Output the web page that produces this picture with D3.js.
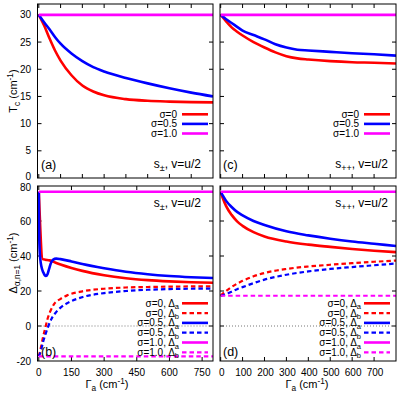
<!DOCTYPE html>
<html><head><meta charset="utf-8">
<script src="https://cdn.jsdelivr.net/npm/d3@7"></script>
<style>body{margin:0;background:#fff} svg{display:block} text{font-family:"Liberation Sans",Arial,Helvetica,sans-serif;fill:#000}</style>
</head><body><svg id="c" width="399" height="395"></svg>
<script>
// ---------- data ----------
// Panel (a): Tc vs Gamma_a, s+- , v=u/2
const aX      = [0,25,50,75,100,150,200,250,300,400,500,600,700,800];
const aSig0   = [30,28,25.6,23.4,21.6,18.9,17.0,15.9,15.2,14.5,14.2,14.05,13.95,13.9];
const aSig05  = [30,28.6,27.3,25.9,24.7,22.9,21.5,20.4,19.6,18.4,17.4,16.5,15.7,15.0];
const aSig10  = [30,30,30,30,30,30,30,30,30,30,30,30,30,30];
// Panel (c): Tc vs Gamma_a, s++
const cX      = [0,25,50,75,100,150,200,250,300,350,400,500,600,700,800];
const cSig0   = [30,28.8,27.7,26.9,26.2,25.0,24.0,23.1,22.4,22.0,21.8,21.5,21.3,21.2,21.05];
const cSig05  = [30,29.2,28.5,27.8,27.1,26.3,25.5,24.6,24.0,23.6,23.45,23.2,22.95,22.75,22.5];
const cSig10  = [30,30,30,30,30,30,30,30,30,30,30,30,30,30,30];
// Panel (b): Delta vs Gamma_a, s+-
const bA0X    = [0,18,30,50,75,100,150,200,300,400,500,600,700,800];
const bA0     = [76.7,38.2,37.9,37.5,36.3,35.2,33.2,31.5,29.0,27.3,26.2,25.5,25.0,24.7];
const bA05X   = [0,1,2,4,7,12,20,27,33,40,47,55,65,80,100,150,200,300,400,500,600,700,800];
const bA05    = [76.7,62,51,43,38,34,30.8,29.1,28.6,29.6,32.5,35.8,37.8,38.5,38.2,36.9,35.4,33.0,31.0,29.6,28.6,27.9,27.4];
const bB0X    = [0,10,20,30,40,55,70,100,130,200,300,400,500,600,700,800];
const bB0     = [-17.3,-12,-6,-1,4,9,12.5,15.5,17.5,19.8,21.3,22,22.3,22.5,22.6,22.6];
const bB05X   = [0,10,20,30,44,60,80,100,130,200,300,400,500,600,700,800];
const bB05    = [-17.3,-14,-9,-5,0,4.5,8,10.5,13,16.5,18.8,20,20.7,21.1,21.3,21.4];
const bConstX = [0,800];
const bA10    = [76.7,76.7];
const bB10    = [-17.3,-17.3];
// Panel (d): Delta vs Gamma_a, s++
const dX      = [0,10,25,50,75,100,150,200,300,400,500,600,700,800];
const dA0     = [76.7,73,68.5,63.5,59.8,57.2,53.6,51.2,48.3,46.5,45.2,44.0,43.0,42.2];
const dA05    = [76.7,74.5,71.5,68,65.2,63.2,60,57.7,54.1,51.8,49.9,48.3,47,45.7];
const dB0     = [17.3,18.5,20,22.3,24.2,25.8,28.4,30.3,32.6,34,35,35.9,36.7,37.4];
const dB05    = [17.3,17.6,18.2,19.6,21,22.2,24.5,26.5,29.3,31.2,32.6,33.7,34.7,35.7];
const dA10    = [76.7,76.7];
const dB10    = [17.3,17.3];
// ticks
const tcTicks = [0,5,10,15,20,25,30];
const dTicksY = [-20,0,20,40,60,80];
const xTicksB = [0,150,300,450,600,750];
const xTicksD = [0,100,200,300,400,500,600,700];
const xTicksTop = [0,100,200,300,400,500,600,700,800];

const RED="#ff0000", BLUE="#0000ff", MAG="#ff00ff";
const svg = d3.select("#c");

const xL = d3.scaleLinear().domain([-6,800]).range([37.5,213]);
const xR = d3.scaleLinear().domain([-3,800]).range([220,396]);
const yT = d3.scaleLinear().domain([0,32]).range([178,4]);
const yB = d3.scaleLinear().domain([-20,80]).range([361,186]);

function rich(sel, parts){
  let pend = 0;
  parts.forEach(p=>{
    let t, fs=null, dy=pend;
    if(typeof p==="string"){ t=p; pend=0; }
    else if(p.sub){ const d=p.dy||3; t=p.sub; fs=p.fs||"0.75em"; dy+=d; pend=-d; }
    else { const d=p.dy||4; t=p.sup; fs=p.fs||"0.75em"; dy-=d; pend=d; }
    const ts = sel.append("tspan").text(t);
    if(dy) ts.attr("dy",dy);
    if(fs) ts.attr("font-size",fs);
  });
  return sel;
}

let clipId=0;
function panel(x,y,xt,yt){
  const g = svg.append("g");
  const [x0,x1]=x.range(), [y1,y0]=y.range();
  const id="clip"+(clipId++);
  svg.append("clipPath").attr("id",id).append("rect").attr("x",x0).attr("y",y0).attr("width",x1-x0).attr("height",y1-y0);
  const tl=4;
  xt.forEach(t=>{
    const px=x(t); if(px<=x0+0.5||px>=x1-0.5) return;
    g.append("line").attr("x1",px).attr("x2",px).attr("y1",y1).attr("y2",y1-tl).attr("stroke","#000");
    g.append("line").attr("x1",px).attr("x2",px).attr("y1",y0).attr("y2",y0+tl).attr("stroke","#000");
  });
  yt.forEach(t=>{
    const py=y(t); if(py<=y0+0.5||py>=y1-0.5) return;
    g.append("line").attr("x1",x0).attr("x2",x0+tl).attr("y1",py).attr("y2",py).attr("stroke","#000");
    g.append("line").attr("x1",x1).attr("x2",x1-tl).attr("y1",py).attr("y2",py).attr("stroke","#000");
  });
  const plot = svg.append("g").attr("clip-path",`url(#${id})`);
  svg.append("rect").attr("x",x0).attr("y",y0).attr("width",x1-x0).attr("height",y1-y0)
    .attr("fill","none").attr("stroke","#000").attr("stroke-width",1);
  return {g,plot,x,y};
}

function curve(p, xs, ys, color, dashed){
  const line = d3.line().x(d=>p.x(d[0])).y(d=>p.y(d[1])).curve(d3.curveMonotoneX);
  p.plot.append("path").datum(xs.map((v,i)=>[v,ys[i]])).attr("d",line)
    .attr("fill","none").attr("stroke",color).attr("stroke-width",dashed?2.2:2.6)
    .attr("stroke-dasharray",dashed?"4.5,3":null);
}

function zero(p){
  p.plot.append("line").attr("x1",p.x.range()[0]).attr("x2",p.x.range()[1])
    .attr("y1",p.y(0)).attr("y2",p.y(0)).attr("stroke","#777").attr("stroke-width",1).attr("stroke-dasharray","1,2");
}

function legend(entries, xEnd, lx0, lx1, yStart, step){
  entries.forEach((e,i)=>{
    const cy=yStart+i*step;
    rich(svg.append("text").attr("x",xEnd).attr("y",cy+3.5).attr("text-anchor","end").attr("font-size",10), e.label);
    svg.append("line").attr("x1",lx0).attr("x2",lx1).attr("y1",cy).attr("y2",cy)
      .attr("stroke",e.color).attr("stroke-width",e.dashed?2.2:2.6).attr("stroke-dasharray",e.dashed?"4.5,3":null);
  });
}

// ---------- panels ----------
const pa = panel(xL,yT,xTicksTop,tcTicks);
const pc = panel(xR,yT,xTicksTop,tcTicks);
const pb = panel(xL,yB,xTicksB,dTicksY);
const pd = panel(xR,yB,xTicksD,dTicksY);

zero(pb); zero(pd);

curve(pa,aX,aSig0,RED); curve(pa,aX,aSig05,BLUE); curve(pa,aX,aSig10,MAG);
curve(pc,cX,cSig0,RED); curve(pc,cX,cSig05,BLUE); curve(pc,cX,cSig10,MAG);

curve(pb,bA0X,bA0,RED); curve(pb,bB0X,bB0,RED,true);
curve(pb,bA05X,bA05,BLUE); curve(pb,bB05X,bB05,BLUE,true);
curve(pb,bConstX,bA10,MAG); curve(pb,bConstX,bB10,MAG,true);

curve(pd,dX,dA0,RED); curve(pd,dX,dB0,RED,true);
curve(pd,dX,dA05,BLUE); curve(pd,dX,dB05,BLUE,true);
curve(pd,bConstX,dA10,MAG); curve(pd,bConstX,dB10,MAG,true);

// ---------- tick labels ----------
tcTicks.forEach(t=>svg.append("text").attr("x",31).attr("y",yT(t)+3.6-(t===0?1.2:0)).attr("text-anchor","end").attr("font-size",10).text(t));
dTicksY.forEach(t=>svg.append("text").attr("x",31).attr("y",yB(t)+3.6+(t===80?1.2:0)).attr("text-anchor","end").attr("font-size",10).text(t));
xTicksB.forEach(t=>svg.append("text").attr("x",xL(t)).attr("y",375.5).attr("text-anchor","middle").attr("font-size",10).text(t));
xTicksD.forEach(t=>svg.append("text").attr("x",xR(t)+1).attr("y",375.5).attr("text-anchor","middle").attr("font-size",10).text(t));

// ---------- axis titles ----------
rich(svg.append("text").attr("transform","translate(17,91) rotate(-90)").attr("text-anchor","middle").attr("font-size",11),
  ["T",{sub:"c"}," (cm",{sup:"-1"},")"]);
rich(svg.append("text").attr("transform","translate(17,263) rotate(-90)").attr("text-anchor","middle").attr("font-size",11),
  ["\u0394",{sub:"\u03b1,n=1"}," (cm",{sup:"-1"},")"]);
rich(svg.append("text").attr("x",107).attr("y",387.5).attr("text-anchor","middle").attr("font-size",11),
  ["\u0393",{sub:"a"}," (cm",{sup:"-1"},")"]);
rich(svg.append("text").attr("x",307).attr("y",387.5).attr("text-anchor","middle").attr("font-size",11),
  ["\u0393",{sub:"a"}," (cm",{sup:"-1"},")"]);

// ---------- annotations ----------
[[41,169,"(a)"],[223,169,"(c)"],[41,356,"(b)"],[223,356,"(d)"]].forEach(d=>
  svg.append("text").attr("x",d[0]).attr("y",d[1]).attr("font-size",12.5).text(d[2]));
rich(svg.append("text").attr("x",201).attr("y",168).attr("text-anchor","end").attr("font-size",12), ["s",{sub:"\u00b1"},", v=u/2"]);
rich(svg.append("text").attr("x",388).attr("y",168).attr("text-anchor","end").attr("font-size",12), ["s",{sub:"++"},", v=u/2"]);
rich(svg.append("text").attr("x",201).attr("y",207).attr("text-anchor","end").attr("font-size",12), ["s",{sub:"\u00b1"},", v=u/2"]);
rich(svg.append("text").attr("x",388).attr("y",207).attr("text-anchor","end").attr("font-size",12), ["s",{sub:"++"},", v=u/2"]);

// ---------- legends ----------
const legTop = [
  {label:["\u03c3=0"],color:RED},
  {label:["\u03c3=0.5"],color:BLUE},
  {label:["\u03c3=1.0"],color:MAG}];
legend(legTop,177,182,208,114.3,9.6);
legend(legTop,359,364,390,114.3,9.6);
const legBot = [
  {label:["\u03c3=0, \u0394",{sub:"a",dy:2.5}],color:RED},
  {label:["\u03c3=0, \u0394",{sub:"b",dy:2.5}],color:RED,dashed:true},
  {label:["\u03c3=0.5, \u0394",{sub:"a",dy:2.5}],color:BLUE},
  {label:["\u03c3=0.5, \u0394",{sub:"b",dy:2.5}],color:BLUE,dashed:true},
  {label:["\u03c3=1.0, \u0394",{sub:"a",dy:2.5}],color:MAG},
  {label:["\u03c3=1.0, \u0394",{sub:"b",dy:2.5}],color:MAG,dashed:true}];
legend(legBot,179,182,208,303.3,9.8);
legend(legBot,361,364,390,303.3,9.8);
</script></body></html>
